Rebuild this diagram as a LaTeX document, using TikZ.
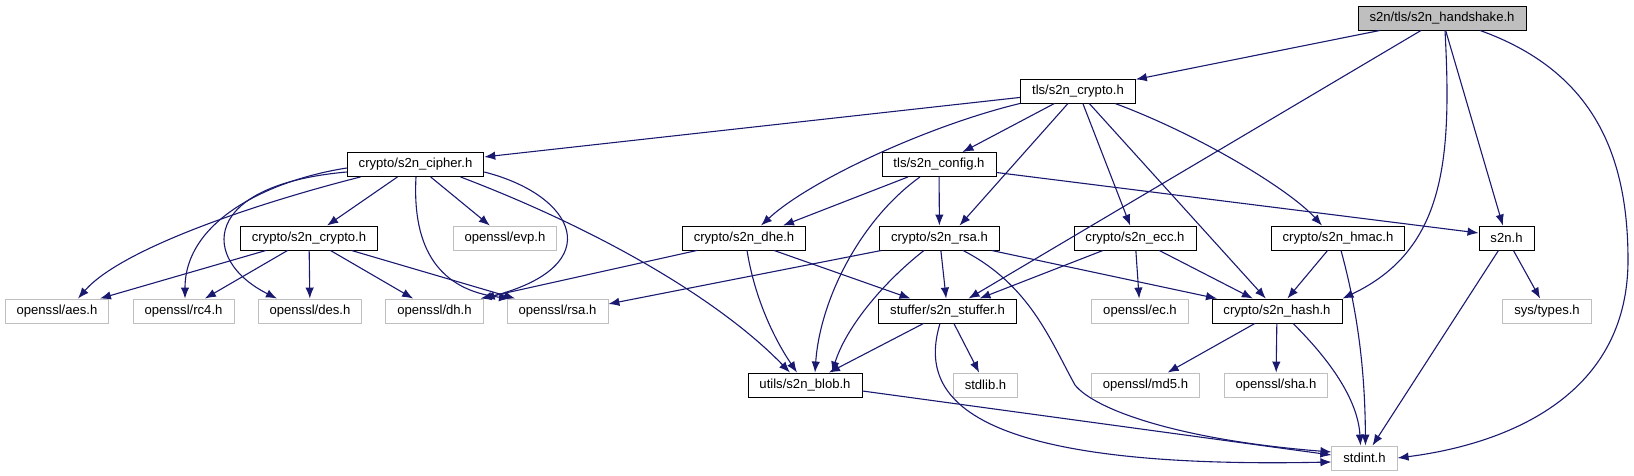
\documentclass[tikz,border=0pt]{standalone}
\usepackage{fontspec}
\setmainfont{Liberation Sans}
\usepackage{xcolor}
\usetikzlibrary{arrows.meta}

\definecolor{edgeblue}{HTML}{191970}
\definecolor{extgray}{HTML}{BFBFBF}

\tikzset{
  hdr/.style={draw=black,line width=0.9pt,fill=white,inner xsep=11.5pt,inner ysep=0pt,minimum height=24pt,font=\fontsize{13.1}{15}\selectfont},
  ext/.style={hdr,draw=extgray},
  dep/.style={draw=edgeblue,line width=1.1pt,-{Latex[length=11pt,width=8.5pt]}}
}

\begin{document}
\begin{tikzpicture}[x=1pt,y=-1pt]
\useasboundingbox (0,0) rectangle (1634,476);
\node[hdr,fill=extgray] (hs) at (1442,18) {s2n/tls/s2n\_handshake.h};
\node[hdr] (tcr) at (1078,91) {tls/s2n\_crypto.h};
\node[hdr] (cip) at (415.5,164.5) {crypto/s2n\_cipher.h};
\node[hdr] (cfg) at (939,164.5) {tls/s2n\_config.h};
\node[hdr] (ccr) at (309,238) {crypto/s2n\_crypto.h};
\node[ext] (evp) at (505,238) {openssl/evp.h};
\node[hdr] (dhe) at (744,238) {crypto/s2n\_dhe.h};
\node[hdr] (rsa) at (939.5,238) {crypto/s2n\_rsa.h};
\node[hdr] (ecc) at (1135,238) {crypto/s2n\_ecc.h};
\node[hdr] (hmac) at (1338,238) {crypto/s2n\_hmac.h};
\node[hdr] (s2n) at (1506.5,238) {s2n.h};
\node[ext] (aes) at (57,311) {openssl/aes.h};
\node[ext] (rc4) at (183.5,311) {openssl/rc4.h};
\node[ext] (des) at (310,311) {openssl/des.h};
\node[ext] (dh) at (434.5,311) {openssl/dh.h};
\node[ext] (orsa) at (557.5,311) {openssl/rsa.h};
\node[hdr] (stf) at (947.5,311) {stuffer/s2n\_stuffer.h};
\node[ext] (ec) at (1140,311) {openssl/ec.h};
\node[hdr] (hash) at (1277,311) {crypto/s2n\_hash.h};
\node[ext] (types) at (1547,311) {sys/types.h};
\node[hdr] (blob) at (805,385) {utils/s2n\_blob.h};
\node[ext] (stdlib) at (985.5,385) {stdlib.h};
\node[ext] (md5) at (1145.5,385) {openssl/md5.h};
\node[ext] (sha) at (1276,385) {openssl/sha.h};
\node[ext] (stdint) at (1364.5,458) {stdint.h};

\draw[dep] (hs) -- (tcr);
\draw[dep] (hs) -- (stf);
\draw[dep] ([xshift=3pt]hs.south) .. controls (1452,160) and (1445,250) .. (hash.north east);
\draw[dep] (hs) -- (s2n);
\draw[dep] ([xshift=38pt]hs.south) .. controls (1590,70) and (1628,150) .. (1628,260) .. controls (1628,400) and (1500,445) .. (stdint.east);

\draw[dep] (tcr) -- (cip);
\draw[dep] (tcr) -- (cfg);
\draw[dep] (tcr.south west) .. controls (930,125) and (810,180) .. ([xshift=17pt]dhe.north);
\draw[dep] ([xshift=-10pt]tcr.south) -- ([xshift=20pt]rsa.north);
\draw[dep] (tcr) -- (ecc);
\draw[dep] (tcr) -- (hash);
\draw[dep] ([xshift=37pt]tcr.south) .. controls (1200,135) and (1290,190) .. ([xshift=-16pt]hmac.north);

\draw[dep] ([xshift=-55pt]cip.south) .. controls (250,205) and (120,250) .. ([xshift=21pt]aes.north);
\draw[dep] ([yshift=-3.5pt]cip.west) .. controls (270,180) and (185,220) .. ([xshift=1.5pt]rc4.north);
\draw[dep] ([yshift=-7.5pt]cip.west) .. controls (200,185) and (200,260) .. ([xshift=-33pt]des.north);
\draw[dep] (cip) -- (ccr);
\draw[dep] (cip) -- (evp);
\draw[dep] ([yshift=-7.5pt]cip.east) .. controls (575,195) and (610,265) .. (dh.north east);
\draw[dep] ([xshift=0.5pt]cip.south) .. controls (412,250) and (440,290) .. ([xshift=-47.5pt]orsa.north);
\draw[dep] ([xshift=45pt]cip.south) .. controls (600,230) and (720,300) .. ([xshift=-15pt]blob.north);

\draw[dep] (ccr) -- (aes);
\draw[dep] (ccr) -- (rc4);
\draw[dep] (ccr) -- (des);
\draw[dep] (ccr) -- (dh);
\draw[dep] (ccr) -- (orsa);

\draw[dep] ([xshift=-31pt]cfg.south) -- ([xshift=39pt]dhe.north);
\draw[dep] (cfg) -- (rsa);
\draw[dep] ([xshift=-19pt]cfg.south) .. controls (860,220) and (820,300) .. ([xshift=10pt]blob.north);
\draw[dep] ([yshift=-8pt]cfg.east) -- ([yshift=5pt]s2n.west);

\draw[dep] ([xshift=-47pt]dhe.south) -- ([xshift=-3pt]dh.north east);
\draw[dep] ([xshift=30pt]dhe.south) -- ([xshift=-37pt]stf.north);
\draw[dep] ([xshift=3pt]dhe.south) .. controls (755,300) and (775,340) .. ([xshift=-8pt]blob.north);

\draw[dep] ([xshift=-58pt]rsa.south) -- ([yshift=7pt]orsa.east);
\draw[dep] (rsa) -- (stf);
\draw[dep] ([xshift=-15.5pt]rsa.south) .. controls (880,285) and (845,330) .. ([xshift=27pt]blob.north);
\draw[dep] ([xshift=52pt]rsa.south) -- ([xshift=-60pt]hash.north);
\draw[dep] ([xshift=23.5pt]rsa.south) .. controls (1030,285) and (1050,340) .. (1075,385) .. controls (1095,410) and (1180,440) .. ([yshift=6pt]stdint.west);

\draw[dep] (ecc) -- (stf);
\draw[dep] (ecc) -- (ec);
\draw[dep] (ecc) -- (hash);

\draw[dep] (hmac) -- (hash);
\draw[dep] ([xshift=3pt]hmac.south) .. controls (1360,320) and (1365,380) .. ([xshift=1pt]stdint.north);

\draw[dep] (s2n) -- (types);
\draw[dep] (s2n) -- (stdint);

\draw[dep] (stf) -- (blob);
\draw[dep] (stf) -- (stdlib);
\draw[dep] ([xshift=-7.5pt]stf.south) .. controls (920,390) and (950,470) .. ([yshift=-4pt]stdint.west);

\draw[dep] (hash) -- (md5);
\draw[dep] (hash) -- (sha);
\draw[dep] ([xshift=16pt]hash.south) .. controls (1330,360) and (1358,400) .. ([xshift=-4pt]stdint.north);

\draw[dep] ([yshift=-6pt]blob.east) -- ([yshift=3pt]stdint.west);
\end{tikzpicture}
\end{document}
